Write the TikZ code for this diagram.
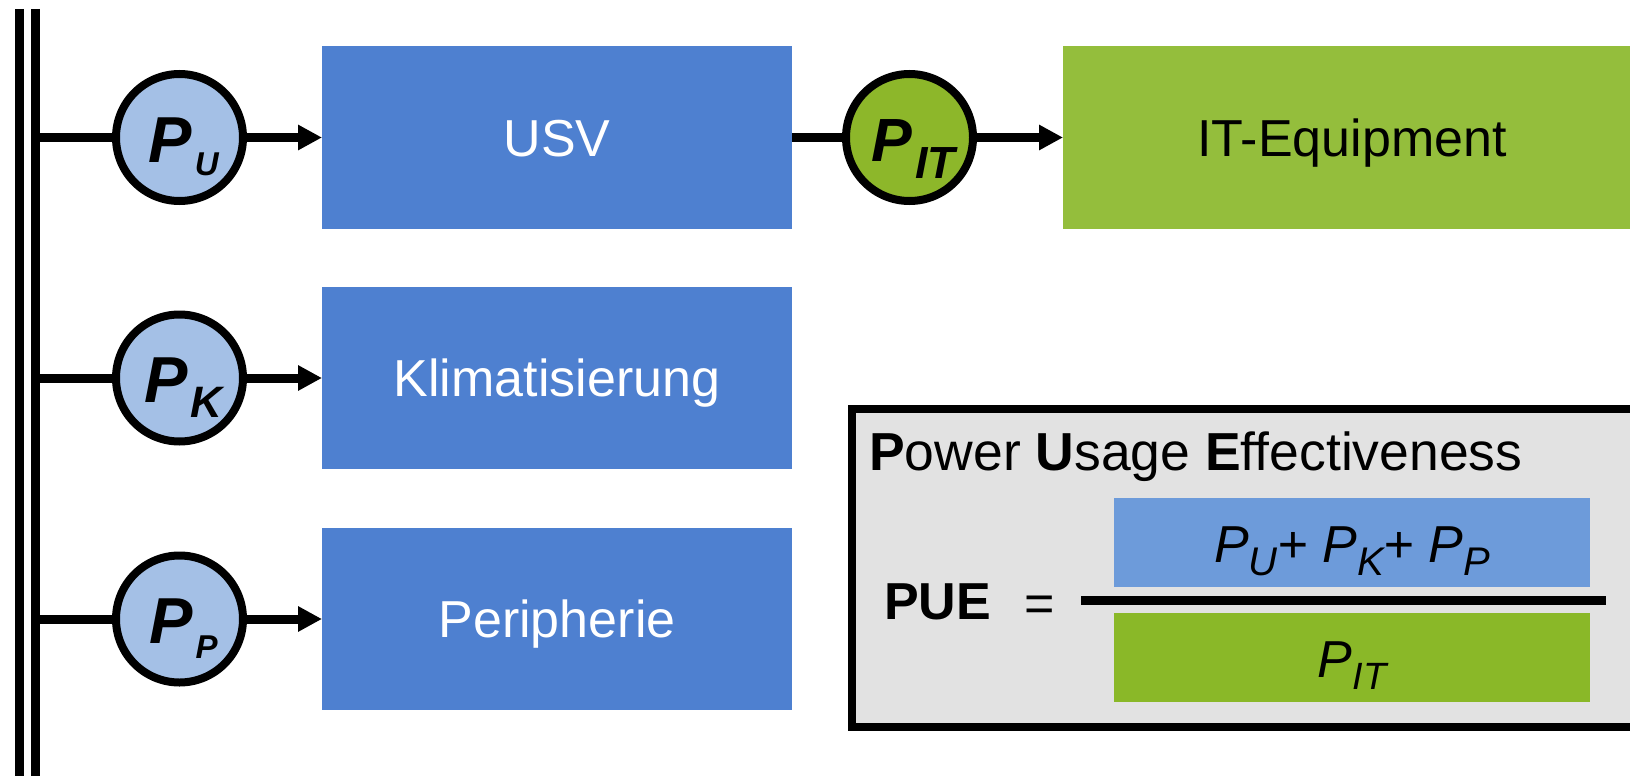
\documentclass[tikz,border=0pt]{standalone}
\usepackage{fontspec}
\setmainfont{Liberation Sans}
\usetikzlibrary{arrows.meta}

\definecolor{boxblue}{RGB}{78,128,208}
\definecolor{meterblue}{RGB}{164,192,230}
\definecolor{itgreen}{RGB}{148,190,60}
\definecolor{metergreen}{RGB}{141,183,42}
\definecolor{numblue}{RGB}{109,155,218}
\definecolor{dengreen}{RGB}{138,184,40}
\definecolor{panelgray}{RGB}{226,226,226}

\newcommand{\fsz}[1]{\fontsize{#1}{#1}\selectfont}
% meter label: large P with a lowered index
\newcommand{\meterlabel}[3]{\hspace*{8pt}P\hspace{3pt}\raisebox{-#3}{\fsz{#2}#1}}

\begin{document}
\begin{tikzpicture}[x=1pt,y=-1pt,
  unitbox/.style={fill=boxblue, minimum width=470pt, minimum height=182pt,
    inner sep=0pt, outer sep=0pt, text=white, font={\fsz{52}},
    text height=37pt, text depth=0pt},
  meter/.style={circle, draw=black, line width=8pt, minimum size=127pt,
    inner sep=0pt, fill=meterblue, font={\fsz{65}\bfseries\itshape},
    text height=49pt, text depth=0pt},
  feed/.style={line width=9pt},
  feedarrow/.style={feed, -{Triangle[length=24pt,width=24pt]}},
  busbar/.style={line width=9pt},
  termbox/.style={minimum width=476pt, minimum height=89pt, inner sep=0pt,
    outer sep=0pt, font={\fsz{52}\itshape}, text height=39pt, text depth=0pt},
]
\useasboundingbox (0,0) rectangle (1630,776);
\fill[white] (0,0) rectangle (1630,776);

% double bus bar on the left
\draw[busbar] (19.5,9) -- (19.5,790);
\draw[busbar] (35.5,9) -- (35.5,790);
\coordinate (tapu) at (35.5,137.5);
\coordinate (tapk) at (35.5,378);
\coordinate (tapp) at (35.5,619);

% consumers
\node[unitbox] (usv) at (557,137.5) {USV};
\node[unitbox] (klima) at (557,378) {Klimatisierung};
\node[unitbox] (peri) at (557,619) {Peripherie};
\node[unitbox, fill=itgreen, text=black, minimum width=578pt] (it) at (1352,137.5) {IT-Equipment};

% power meters
\node[meter] (pu) at (179.5,137.5) {\meterlabel{U}{33}{13pt}};
\node[meter] (pk) at (179.5,378) {\meterlabel{K}{44}{15pt}};
\node[meter] (pp) at (179.5,619) {\meterlabel{P}{33}{15pt}};
\node[meter, fill=metergreen, font={\fsz{61}\bfseries\itshape}, text height=47pt]
  (pit) at (909.5,137.5) {\meterlabel{IT}{45}{17pt}};

% feeders
\draw[feed] (tapu) -- (pu);
\draw[feed] (tapk) -- (pk);
\draw[feed] (tapp) -- (pp);
\draw[feedarrow] (pu) -- (usv);
\draw[feedarrow] (pk) -- (klima);
\draw[feedarrow] (pp) -- (peri);
\draw[feed] (usv) -- (pit);
\draw[feedarrow] (pit) -- (it);

% PUE definition panel
\node[draw=black, line width=8pt, fill=panelgray, minimum width=788pt,
  minimum height=318pt, inner sep=0pt, outer sep=0pt, anchor=north west]
  (panel) at (852,409) {};
\node[anchor=base west, inner sep=0pt, font={\fsz{53.5}}] (title) at (869,470)
  {\textbf{P}ower \textbf{U}sage \textbf{E}ffectiveness};
\node[anchor=base west, inner sep=0pt, font={\fsz{52}\bfseries}] (pue) at (884,619) {PUE};
\node[inner sep=0pt, font={\fsz{52}}] (eq) at (1039.5,609) {=};
\node[termbox, fill=numblue] (num) at (1352,542.5)
  {P\raisebox{-13pt}{\fsz{40}U}+ P\raisebox{-13pt}{\fsz{40}K}+ P\raisebox{-13pt}{\fsz{40}P}};
\node[termbox, fill=dengreen] (den) at (1352,657.5)
  {P\raisebox{-12pt}{\fsz{38}IT}};
\draw[line width=9pt] (1081,600.5) -- (1606,600.5);
\end{tikzpicture}
\end{document}
